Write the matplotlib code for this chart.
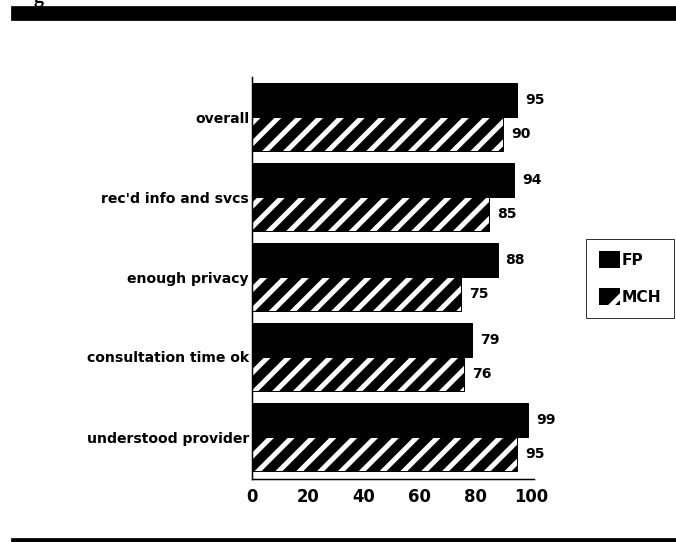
import matplotlib
matplotlib.use("Agg")
import matplotlib.pyplot as plt
import matplotlib.patches as mpatches

DPI = 125  # dpi maior para o espaçamento do hatch ficar parecido com o original
K = 72 / DPI  # px -> pt

plt.rcParams['font.family'] = ['DejaVu Sans']
plt.rcParams['font.weight'] = 'bold'
plt.rcParams['hatch.linewidth'] = 5 * K

categorias = ['overall', "rec'd info and svcs", 'enough privacy',
              'consultation time ok', 'understood provider']
fp = [95, 94, 88, 79, 99]
mch = [90, 85, 75, 76, 95]
ticks = [0, 20, 40, 60, 80, 100]

fig = plt.figure(figsize=(676 / DPI, 542 / DPI), dpi=DPI)
ax = fig.add_axes([252 / 676, 1 - 479 / 542, 279 / 676, 402 / 542])

pos = list(range(len(categorias)))
h = 0.425
pos_fp = [p - h / 2 for p in pos]
pos_mch = [p + h / 2 for p in pos]

ax.barh(pos_fp, fp, height=h, color='black', edgecolor='black', linewidth=1 * K)
# listras brancas: hatch usa a cor da borda, depois contorno preto por cima
ax.barh(pos_mch, mch, height=h, color='black', edgecolor='white', hatch='//', linewidth=0)
ax.barh(pos_mch, mch, height=h, fill=False, edgecolor='black', linewidth=1 * K)

for y, v in zip(pos_fp, fp):
    ax.text(v + 2.8, y, str(v), va='center', ha='left', fontsize=14 * K, fontweight='bold')
for y, v in zip(pos_mch, mch):
    ax.text(v + 2.8, y, str(v), va='center', ha='left', fontsize=14 * K, fontweight='bold')

ax.set_ylim(4.525, -0.5)
ax.set_xlim(0, 100)
ax.set_yticks(pos)
ax.set_yticklabels(categorias, fontsize=14 * K, fontweight='bold')
ax.set_xticks(ticks)
ax.set_xticklabels([str(t) for t in ticks], fontsize=16.5 * K, fontweight='bold')
ax.tick_params(axis='y', length=0, pad=3 * K)
ax.tick_params(axis='x', length=0, pad=9 * K)
for s in ['top', 'right']:
    ax.spines[s].set_visible(False)
ax.spines['left'].set_linewidth(1.5 * K)
ax.spines['bottom'].set_linewidth(1.5 * K)
ax.spines['bottom'].set_bounds(0, 101)

handles = [mpatches.Patch(facecolor='black', edgecolor='black', linewidth=0, label='FP'),
           mpatches.Patch(facecolor='black', edgecolor='white', hatch='/', linewidth=0,
                          label='MCH')]
leg = fig.legend(handles=handles, loc='upper right', bbox_to_anchor=(674 / 676, 1 - 239 / 542),
                 frameon=True, fancybox=False, fontsize=15.5 * K, handlelength=1.35,
                 handleheight=1.3, handletextpad=0.15, borderpad=0.8, labelspacing=1.3,
                 borderaxespad=0)
leg.get_frame().set_edgecolor('black')
leg.get_frame().set_linewidth(1 * K)

# faixa preta em cima e linha em baixo
fig.add_artist(mpatches.Rectangle((12 / 676, 1 - 20 / 542), 1, 13 / 542,
                                  transform=fig.transFigure, color='black'))
fig.add_artist(mpatches.Rectangle((12 / 676, 0), 1, 3 / 542,
                                  transform=fig.transFigure, color='black'))
fig.text(34 / 676, 1 - 2 / 542, 'g', fontsize=20 * K, fontweight='bold',
         family='Liberation Serif', va='baseline')

plt.savefig('out.png', dpi=DPI)
